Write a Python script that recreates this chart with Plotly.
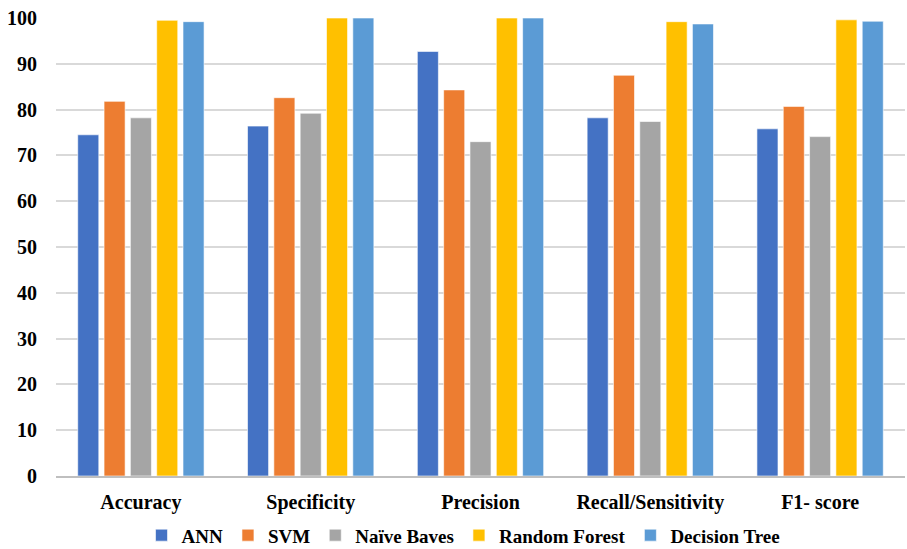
import plotly.graph_objects as go

metrics = ["Accuracy", "Specificity", "Precision", "Recall/Sensitivity", "F1- score"]

ann = [74.5, 76.4, 92.7, 78.2, 75.8]
svm = [81.8, 82.6, 84.3, 87.5, 80.7]
naive_bayes = [78.2, 79.2, 73.0, 77.4, 74.1]
random_forest = [99.5, 100.0, 100.0, 99.2, 99.6]
decision_tree = [99.2, 100.0, 100.0, 98.7, 99.3]

series = [
    ("ANN", ann, "#4472C4"),
    ("SVM", svm, "#ED7D31"),
    ("Naïve Baves", naive_bayes, "#A5A5A5"),
    ("Random Forest", random_forest, "#FFC000"),
    ("Decision Tree", decision_tree, "#5B9BD5"),
]

font_family = "Liberation Serif"

fig = go.Figure()
for name, vals, color in series:
    fig.add_trace(go.Bar(
        name=name, x=metrics, y=vals,
        marker=dict(color=color, line=dict(color="rgba(255,255,255,0.6)", width=1)),
    ))

fig.update_layout(
    width=907, height=549,
    margin=dict(l=56, r=2, t=18, b=73, autoexpand=False),
    paper_bgcolor="white", plot_bgcolor="white",
    barmode="group", bargap=0.225, bargroupgap=0.2,
    font=dict(family=font_family, size=20, color="black", weight="bold"),
    showlegend=True,
    legend=dict(
        orientation="h", x=0.48, xanchor="center", y=-0.088, yanchor="top",
        font=dict(family=font_family, size=19, color="black", weight="bold"),
        itemwidth=30, tracegroupgap=0,
    ),
)
fig.update_xaxes(
    showgrid=False, ticks="", showline=True, linecolor="#BFBFBF", linewidth=2,
    ticklabelstandoff=7,
    tickfont=dict(family=font_family, size=20, color="black", weight="bold"),
)
fig.update_yaxes(
    range=[0, 100], dtick=10, showgrid=True, gridcolor="#D9D9D9", gridwidth=1.5,
    zeroline=False, showline=False, ticks="", ticklabelstandoff=18,
    tickfont=dict(family=font_family, size=20, color="black", weight="bold"),
)

fig.write_html("out.html")
